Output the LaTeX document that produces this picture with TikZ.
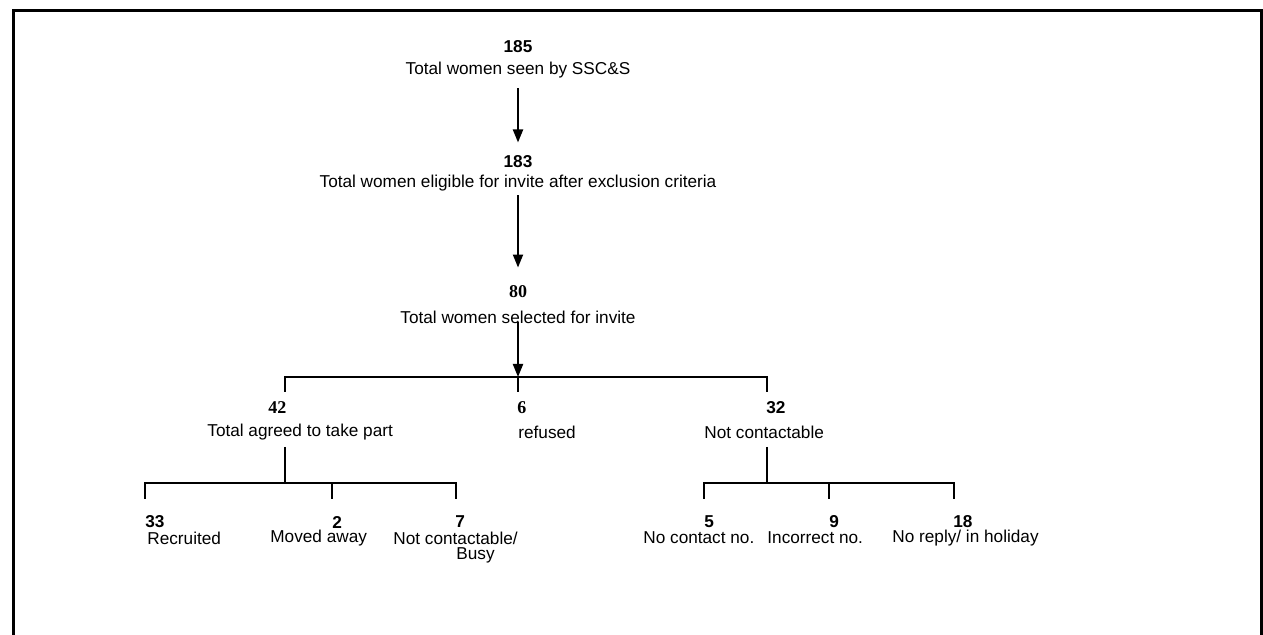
\documentclass[tikz,border=0pt]{standalone}
\usepackage{fontspec}
\setmainfont{Liberation Sans}
\newfontfamily\numserif{Liberation Serif}
\usetikzlibrary{arrows.meta}
\tikzset{>={Triangle[length=6.5pt,width=5pt]}}

\begin{document}
\begin{tikzpicture}[x=0.5pt,y=-0.5pt,
    every node/.style={inner sep=0pt,font=\fontsize{8.6}{10}\selectfont},
    num/.style={font=\fontsize{8.6}{10}\selectfont\bfseries},
    numtimes/.style={font=\fontsize{9}{10}\selectfont\numserif\bfseries},
    flow/.style={->,line width=1pt},
    tree/.style={line width=0.75pt}]
  \useasboundingbox (0,0) rectangle (1263,635);
  \draw[line width=1.5pt] (13,635) -- (13,11) -- (1261,11) -- (1261,635);

  \node[num] (n185) at (518,47) {185};
  \node (seen) at (518,70) {Total women seen by SSC\&S};
  \node[num] (n183) at (518,162) {183};
  \node (elig) at (518,183) {Total women eligible for invite after exclusion criteria};
  \node[numtimes] (n80) at (518,292) {80};
  \node (sel) at (518,317) {Total women selected for invite};

  \draw[flow,shorten <=5pt,shorten >=6.5pt] (seen) -- (n183);
  \draw[flow,shorten <=2pt,shorten >=9pt] (elig) -- (n80);

  \coordinate (j1) at (518,377);
  \coordinate (upL) at (285,392);
  \coordinate (upM) at (518,392);
  \coordinate (upR) at (767,392);
  \draw[flow,shorten <=-1pt] (sel.south) -- (j1);
  \draw[tree] (upL) |- (j1) -| (upR);
  \draw[tree] (j1) -- (upM);

  \node[numtimes,anchor=west] (n42) at (268,408) {42};
  \node[anchor=west] (agreed) at (207,432) {Total agreed to take part};
  \node[numtimes,anchor=west] (n6) at (517,408) {6};
  \node[anchor=west] (refused) at (518,432) {refused};
  \node[num,anchor=west] (n32) at (766,408) {32};
  \node[anchor=west] (notcont) at (704,432) {Not contactable};

  % agreed branch
  \coordinate (legL) at (285,447);
  \coordinate (jL) at (285,483);
  \coordinate (dL1) at (145,499);
  \coordinate (dL2) at (332,499);
  \coordinate (dL3) at (456,499);
  \draw[tree] (legL) -- (jL);
  \draw[tree] (dL1) |- (jL) -| (dL3);
  \draw[tree] (dL2) -- (dL2 |- jL);

  \node[num,anchor=west] (n33) at (145,522) {33};
  \node[anchor=west] (recruited) at (147,538) {Recruited};
  \node[num,anchor=west] (n2) at (332,522) {2};
  \node[anchor=west] (moved) at (270,538) {Moved away};
  \node[num,anchor=west] (n7) at (455,522) {7};
  \node[anchor=west] (busy1) at (393,538) {Not contactable/};
  \node[anchor=west] (busy2) at (456,555) {Busy};

  % not contactable branch
  \coordinate (legR) at (767,447);
  \coordinate (jR) at (767,483);
  \coordinate (dR1) at (704,499);
  \coordinate (dR2) at (829,499);
  \coordinate (dR3) at (954,499);
  \draw[tree] (legR) -- (jR);
  \draw[tree] (dR1) |- (jR) -| (dR3);
  \draw[tree] (dR2) -- (dR2 |- jR);

  \node[num,anchor=west] (n5) at (704,522) {5};
  \node[anchor=west] (nocontact) at (643,538) {No contact no.};
  \node[num,anchor=west] (n9) at (829,522) {9};
  \node[anchor=west] (incorrect) at (767,538) {Incorrect no.};
  \node[num,anchor=west] (n18) at (953,522) {18};
  \node[anchor=west] (noreply) at (892,538) {No reply/ in holiday};
\end{tikzpicture}
\end{document}
